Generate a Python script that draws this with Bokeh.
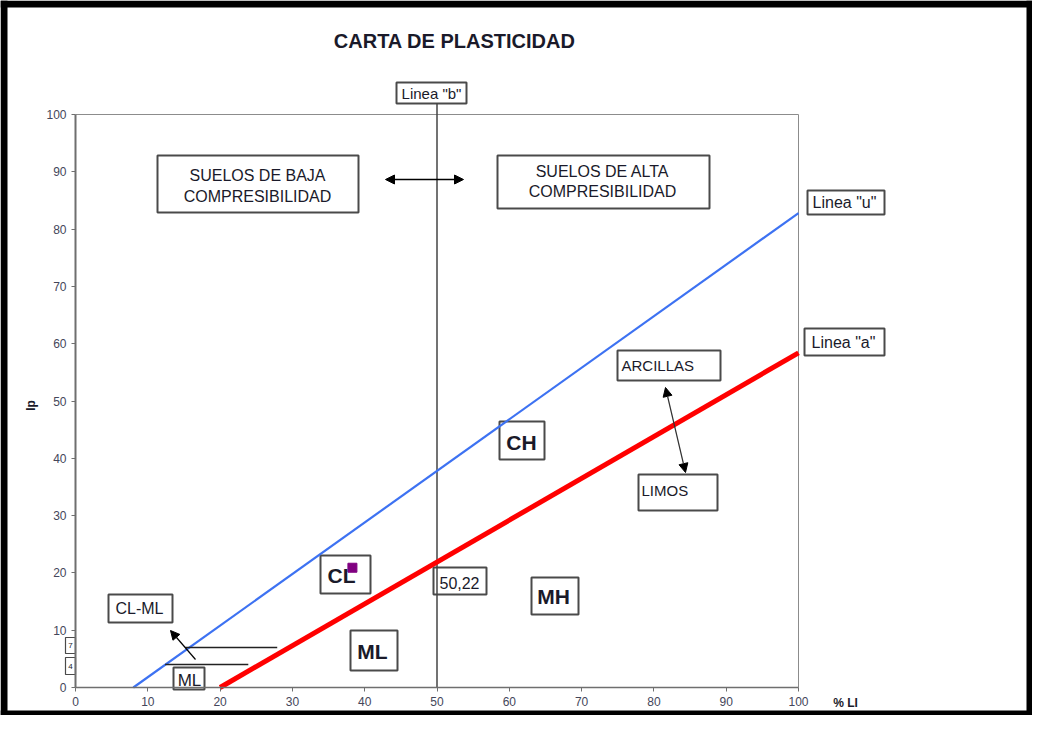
import math
from bokeh.plotting import figure
from bokeh.models import Range1d, Label, Arrow, NormalHead, FixedTicker
from bokeh.embed import file_html
from bokeh.resources import INLINE

# ---------------- data ----------------
x_ticks = [0, 10, 20, 30, 40, 50, 60, 70, 80, 90, 100]
y_ticks = [0, 10, 20, 30, 40, 50, 60, 70, 80, 90, 100]

u_line_ll = [8, 100]          # Linea "u"
u_line_ip = [0, 82.8]
a_line_ll = [20, 100]         # Linea "a"
a_line_ip = [0, 58.4]
b_line_ll = [50, 50]          # Linea "b"
b_line_ip = [0, 102]

clml_ip = [7, 4]              # CL-ML band limits
clml_ll_start = [15.2, 12.4]
clml_ll_end = [27.9, 23.9]

sample_ll = [38.3]            # ensayo
sample_ip = [20.9]

# ---------------- layout helpers (canvas pixel -> data) ----------------
W, H = 1032, 715

def X(px):
    return (px - 75) / 7.23

def Y(py):
    return (687 - py) / 5.73

FONT = "Liberation Sans"
BOXC = "#4a4a4a"

p = figure(width=W, height=H, x_range=Range1d(X(0), X(W)), y_range=Range1d(Y(H), Y(0)),
           output_backend="svg", toolbar_location=None, title=None,
           min_border_left=0, min_border_right=0, min_border_top=0, min_border_bottom=0)
p.xgrid.visible = False
p.ygrid.visible = False
p.background_fill_color = "white"
p.border_fill_color = "white"
p.outline_line_color = None

# black page frame
p.quad(left=X(0), right=X(7), top=Y(0), bottom=Y(H), fill_color="black", line_color=None)
p.quad(left=X(0), right=X(W), top=Y(0), bottom=Y(7), fill_color="black", line_color=None)
p.quad(left=X(W - 6), right=X(W), top=Y(0), bottom=Y(H), fill_color="black", line_color=None)
p.quad(left=X(0), right=X(W), top=Y(H - 5), bottom=Y(H), fill_color="black", line_color=None)

for ax, t in ((p.xaxis[0], x_ticks), (p.yaxis[0], y_ticks)):
    ax.ticker = FixedTicker(ticks=t)
    ax.fixed_location = 0
    ax.bounds = (t[0], t[-1])
    ax.major_tick_in = 0
    ax.major_tick_out = 4
    ax.minor_tick_in = 0
    ax.minor_tick_out = 0
    ax.major_label_text_font = FONT
    ax.major_label_text_font_size = "12px"
    ax.major_label_text_color = "#44465a"
    ax.axis_line_color = "#6f6f6f"
    ax.major_tick_line_color = "#6f6f6f"
    ax.major_label_standoff = 5
p.yaxis[0].axis_line_width = 2
p.xaxis[0].axis_line_width = 1.5

# plot-area border (top and right)
p.line([x_ticks[0], x_ticks[-1], x_ticks[-1]], [y_ticks[-1], y_ticks[-1], y_ticks[0]],
       line_color="#8c8c8c", line_width=1)

# ---------------- boxes ----------------
boxes = [
    (157, 155, 358, 212, 2), (497, 155, 709, 208, 2),
    (617, 350, 720, 380, 2), (638, 474, 717, 510, 2),
    (499, 421, 544, 459, 2), (320, 555, 370, 593, 2),
    (433, 567, 486, 594, 2), (350, 630, 397, 670, 2),
    (531, 577, 578, 614, 2), (108, 594, 172, 622, 2),
    (173, 667, 204, 689, 2),
    (396, 82, 466, 103, 2), (807, 190, 884, 214, 2), (804, 328, 884, 355, 2),
    (65, 637, 75, 653, 1.2), (65, 657, 75, 674, 1.2),
]
for l, t, r, b, w in boxes:
    p.quad(left=X(l), right=X(r), top=Y(t), bottom=Y(b), fill_color="white",
           line_color=BOXC, line_width=w)

# ---------------- lines ----------------
p.line(b_line_ll, b_line_ip, line_color="#444444", line_width=1.5)
p.line(u_line_ll, u_line_ip, line_color="#3d72f2", line_width=2.2)
p.line(a_line_ll, a_line_ip, line_color="#ff0000", line_width=5)
p.segment(x0=clml_ll_start, y0=clml_ip, x1=clml_ll_end, y1=clml_ip,
          line_color="#222222", line_width=1.5)
p.scatter(sample_ll, sample_ip, marker="square", size=9, color="#800080")

# ---------------- arrows ----------------
def head():
    return NormalHead(size=9, fill_color="black", line_color="black")

p.add_layout(Arrow(x_start=X(385), y_start=Y(179), x_end=X(463), y_end=Y(179),
                   start=head(), end=head(), line_color="black", line_width=1.5))
p.add_layout(Arrow(x_start=X(665), y_start=Y(387), x_end=X(685), y_end=Y(472),
                   start=head(), end=head(), line_color="#333333", line_width=1.2))
p.add_layout(Arrow(x_start=X(195), y_start=Y(659), x_end=X(170), y_end=Y(630),
                   start=None, end=head(), line_color="black", line_width=1.2))

# ---------------- texts ----------------
def lab(text, px, py, size, bold=False, align="center", color="#1a1a2a", angle=0.0):
    p.add_layout(Label(x=X(px), y=Y(py), text=text, text_font=FONT, text_font_size=f"{size}px",
                       text_font_style="bold" if bold else "normal", text_align=align,
                       text_baseline="middle", text_color=color, angle=angle))

lab("CARTA  DE PLASTICIDAD", 457, 40, 20, bold=True)
lab('Linea "b"', 431, 93, 15)
lab("SUELOS DE BAJA", 257, 175, 16)
lab("COMPRESIBILIDAD", 257, 196, 16)
lab("SUELOS DE ALTA", 602, 171, 16)
lab("COMPRESIBILIDAD", 602, 191, 16)
lab('Linea "u"', 844, 202, 16)
lab('Linea "a"', 843, 342, 16)
lab("ARCILLAS", 621, 365, 15, align="left")
lab("LIMOS", 641, 490, 15, align="left")
lab("CH", 521, 442, 21, bold=True)
lab("CL", 341, 575, 21, bold=True)
lab("50,22", 459, 582, 16)
lab("ML", 372, 651, 21, bold=True)
lab("MH", 553, 596, 21, bold=True)
lab("CL-ML", 139, 608, 16)
lab("ML", 189, 680, 17)
lab("7", 70, 645, 8)
lab("4", 70, 666, 8)
lab("Ip", 30, 405, 12, bold=True, angle=math.pi / 2)
lab("% LI", 845, 702, 12, bold=True)

open("out.html", "w").write(file_html(p, INLINE))
